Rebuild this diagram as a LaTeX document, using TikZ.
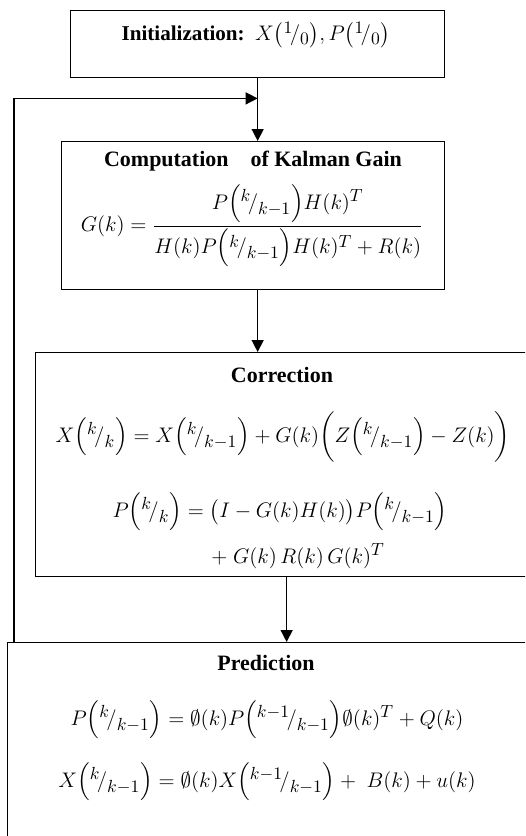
\documentclass[tikz,border=0pt]{standalone}
\usepackage{amsmath,amssymb}
\usepackage{fontspec}
\setmainfont{Liberation Serif}
\usetikzlibrary{arrows.meta}
\DeclareMathSizes{12}{12}{10}{8}

\newcommand{\kfrac}[2]{{\Bigl({}^{#1}\!/_{#2}\Bigr)}}

\tikzset{
  every node/.style={font=\fontsize{12}{14}\selectfont, inner sep=1pt},
  stagebox/.style={draw, line width=0.8pt, inner sep=0pt, anchor=north west},
  heading/.style={font=\fontsize{12.5}{14}\selectfont\bfseries},
  flow/.style={-{Triangle[length=2.4mm,width=2.4mm]}, line width=0.8pt},
}

\begin{document}
\begin{tikzpicture}[x=0.02cm, y=-0.02cm]
    \useasboundingbox (0,0) rectangle (525,836);
    \clip (0,0) rectangle (525,836);
    \node[stagebox, minimum width=7.48cm, minimum height=1.34cm] (init) at (70,10) {};
    \node[stagebox, minimum width=7.66cm, minimum height=2.96cm] (gain) at (61,141) {};
    \node[stagebox, minimum width=10.04cm, minimum height=4.48cm] (corr) at (35,352) {};
    \node[stagebox, minimum width=11.16cm, minimum height=4.4cm] (pred) at (7,642) {};

    \node (initlbl) at (256,35) {\textbf{Initialization:}\enspace$X{\bigl({}^{1}\!/_{0}\bigr)}, P{\bigl({}^{1}\!/_{0}\bigr)}$};

    \node[heading] (gainlbl) at (253,161) {Computation\quad of Kalman Gain};
    \node (gaineq) at (252,226) {$G(k)=\dfrac{P\kfrac{k}{k-1}H(k)^T}{H(k)P\kfrac{k}{k-1}H(k)^T+R(k)}$};

    \node[heading] (corrlbl) at (282,375) {Correction};
    \node (correqx) at (283,437) {$X\kfrac{k}{k}=X\kfrac{k}{k-1}+G(k)\biggl(Z\kfrac{k}{k-1}-Z(k)\biggr)$};
    \node (correqp) at (280,512) {$P\kfrac{k}{k}=\bigl(I-G(k)H(k)\bigr)P\kfrac{k}{k-1}$};
    \node (correqg) at (298,556) {$+\;G(k)\,R(k)\,G(k)^T$};

    \node[heading] (predlbl) at (266,663) {Prediction};
    \node (predeqp) at (267,720) {$P\kfrac{k}{k-1}=\emptyset(k)P\kfrac{k-1}{k-1}\emptyset(k)^T+Q(k)$};
    \node (predeqx) at (267,782) {$X\kfrac{k}{k-1}=\emptyset(k)X\kfrac{k-1}{k-1}+\;B(k)+u(k)$};

    \coordinate (merge) at ([yshift=-0.4cm]init.south);
    \draw[flow] (init.south) -- (init.south |- gain.north);
    \draw[flow] (init.south |- gain.south) -- (init.south |- corr.north);
    \draw[flow] (corr.south) -- (corr.south |- pred.north);
    \draw[flow] ([xshift=0.14cm]pred.north west) |- (merge);
\end{tikzpicture}
\end{document}
